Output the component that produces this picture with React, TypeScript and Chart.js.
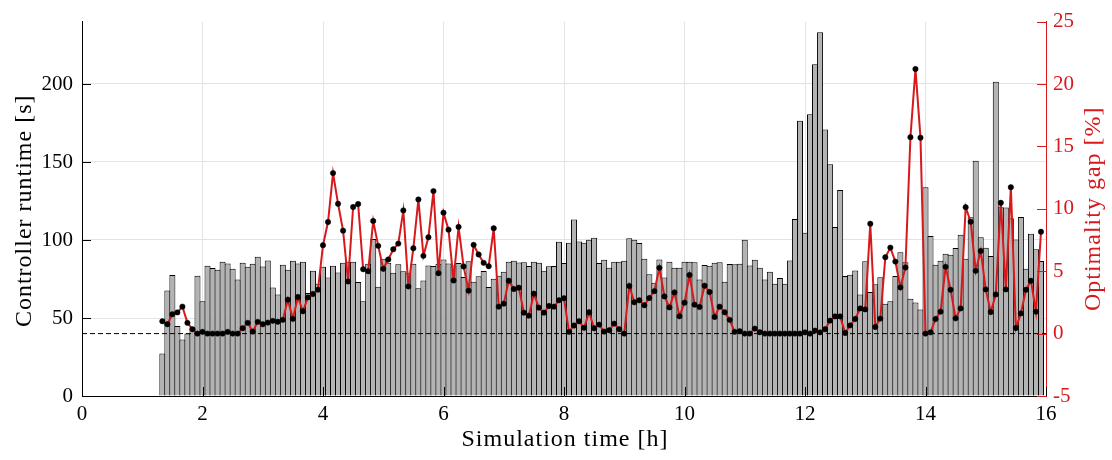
import React, { useEffect, useRef } from 'react';
import { Chart, registerables } from 'chart.js';

Chart.register(...registerables);

// Time stamps: one sample every 5 minutes starting at 1 h 20 min
const startHour = 4 / 3;
const stepHour = 1 / 12;

// Controller runtime per step [s] (left axis, bars)
const runtime = [
  27.3, 67.7, 77.5, 44.9, 36.2, 40.1, 43.9, 77.1, 60.7, 83.5,
  82, 81, 86, 85, 81.6, 74.6, 85.4, 82.9, 84.8, 89.2,
  83, 86.9, 69.6, 65, 84.1, 81, 86.7, 85, 86, 66,
  80.3, 72, 82.9, 76, 83.5, 79.2, 85.4, 86, 86, 73,
  60.7, 84.8, 100.7, 70, 88, 85.4, 79, 84.4, 79.9, 79,
  84.8, 69, 74.1, 83.7, 83.3, 84.8, 87.5, 85, 83.7, 85.2,
  76.3, 86.3, 73.3, 76.7, 80.1, 69.9, 75.2, 77.1, 79.7, 86,
  86.7, 85.6, 85.8, 83.4, 86, 85.4, 80.3, 83.1, 83.3, 98.8,
  85.2, 98.2, 113.1, 99, 98.2, 100.1, 101.4, 85.2, 87.3, 82.2,
  86, 86, 86.7, 101.2, 100.1, 98, 88, 78, 72.6, 87.5,
  76, 86, 82.2, 82.2, 86, 86, 85.8, 74.6, 83.9, 83.5,
  85.4, 85.8, 73.3, 84.6, 84.4, 84.8, 100.1, 83.7, 87.3, 82.2,
  74.6, 79.7, 72, 75.6, 72, 86.9, 113.5, 176.4, 104.6, 180.6,
  212.6, 233.2, 170.8, 148.6, 108.4, 132, 76.9, 77.7, 80.5, 65,
  86.3, 66.7, 71.6, 76.2, 59.2, 60.7, 76.9, 92.2, 85.8, 62.4,
  59.9, 55.4, 133.8, 102.5, 84.1, 86.7, 91.2, 90.5, 94.8, 103.3,
  88, 114.6, 150.8, 101.8, 95, 89.7, 201.5, 121, 120.8, 114,
  100.3, 114.8, 81.6, 104, 94, 86.5,
];

// Optimality gap per step [%] (right axis, line)
const gap = [
  0.99, 0.75, 1.55, 1.7, 2.16, 0.86, 0.35, 0, 0.14, 0,
  0, 0, 0, 0.14, 0, 0, 0.43, 0.86, 0.16, 0.94,
  0.75, 0.88, 1.02, 0.95, 1.1, 2.72, 1.18, 2.93, 1.79, 2.9,
  3.17, 3.52, 7.08, 8.94, 12.86, 10.4, 8.25, 4.18, 10.14, 10.38,
  5.16, 5.0, 9.02, 7.03, 5.19, 5.94, 6.76, 7.21, 9.87, 3.78,
  6.84, 10.75, 6.23, 7.72, 11.42, 4.84, 9.69, 8.33, 4.26, 8.55,
  5.38, 3.44, 7.11, 6.34, 5.67, 5.4, 8.44, 2.16, 2.4, 4.24,
  3.57, 3.68, 1.68, 1.44, 3.2, 2.08, 1.68, 2.21, 2.16, 2.67,
  2.83, 0.14, 0.65, 0.99, 0.46, 1.71, 0.43, 0.72, 0.16, 0.27,
  0.8, 0.35, 0, 3.81, 2.51, 2.67, 2.27, 2.85, 3.4, 5.27,
  2.98, 2.1, 3.3, 1.39, 2.48, 4.69, 2.32, 2.13, 3.84, 3.33,
  1.33, 2.16, 1.71, 1.1, 0.14, 0.19, 0, 0, 0.4, 0.11,
  0, 0, 0, 0, 0, 0, 0, 0, 0.1, 0,
  0.24, 0.1, 0.35, 1.04, 1.38, 1.38, 0.05, 0.66, 1.17, 2.02,
  1.94, 8.8, 0.53, 1.2, 6.12, 6.89, 5.77, 3.7, 5.3, 15.74,
  21.2, 15.7, 0, 0.1, 1.17, 1.76, 5.35, 3.51, 1.22, 2.02,
  10.13, 8.96, 5.03, 6.62, 3.54, 1.73, 3.14, 10.48, 3.54, 11.73,
  0.45, 1.62, 3.51, 4.23, 1.76, 8.16,
];

const xTicks = [0, 2, 4, 6, 8, 10, 12, 14, 16];
const leftTicks = [0, 50, 100, 150, 200];
const rightTicks = [-5, 0, 5, 10, 15, 20, 25];
const xRange = [0, 16];
const leftRange = [0, 240];
const rightRange = [-5, 25];
const referenceRuntime = 40;

const xTitle = 'Simulation time [h]';
const leftTitle = 'Controller runtime [s]';
const rightTitle = 'Optimality gap [%]';

const RED = '#d7191c';
const FONT = '"Liberation Serif", "Times New Roman", serif';

export default function App() {
  const canvasRef = useRef<HTMLCanvasElement | null>(null);

  useEffect(() => {
    if (!canvasRef.current) return;
    const times = runtime.map((_, i) => startHour + i * stepHour);

    const overlayPlugin = {
      id: 'overlay',
      afterDatasetsDraw(chart: any) {
        const { ctx, chartArea, scales } = chart;
        const { left, right, bottom } = chartArea;
        const tl = 9;
        ctx.save();
        ctx.lineWidth = 1;
        ctx.strokeStyle = '#000';
        xTicks.forEach((v) => {
          const px = Math.round(scales.x.getPixelForValue(v)) + 0.5;
          ctx.beginPath();
          ctx.moveTo(px, bottom);
          ctx.lineTo(px, bottom - tl);
          ctx.stroke();
        });
        leftTicks.forEach((v) => {
          const py = Math.round(scales.y.getPixelForValue(v)) + 0.5;
          ctx.beginPath();
          ctx.moveTo(left, py);
          ctx.lineTo(left + tl, py);
          ctx.stroke();
        });
        ctx.strokeStyle = RED;
        rightTicks.forEach((v) => {
          const py = Math.round(scales.y2.getPixelForValue(v)) + 0.5;
          ctx.beginPath();
          ctx.moveTo(right, py);
          ctx.lineTo(right - tl, py);
          ctx.stroke();
        });
        ctx.restore();
      },
      afterDraw(chart: any) {
        const { ctx, chartArea } = chart;
        const midY = (chartArea.top + chartArea.bottom) / 2;
        ctx.save();
        ctx.font = `24px ${FONT}`;
        try { (ctx as any).letterSpacing = '1px'; } catch (e) { /* ignore */ }
        ctx.textAlign = 'center';
        ctx.textBaseline = 'alphabetic';
        ctx.fillStyle = '#000';
        ctx.fillText(xTitle, (chartArea.left + chartArea.right) / 2 + 1, 446);
        ctx.save();
        ctx.translate(31, midY + 2);
        ctx.rotate(-Math.PI / 2);
        ctx.fillText(leftTitle, 0, 0);
        ctx.restore();
        ctx.save();
        ctx.fillStyle = RED;
        ctx.translate(1100, midY);
        ctx.rotate(-Math.PI / 2);
        ctx.fillText(rightTitle, 0, 0);
        ctx.restore();
        ctx.restore();
      },
    };

    const chart = new Chart(canvasRef.current, {
      type: 'bar',
      data: {
        datasets: [
          {
            type: 'line',
            label: 'Optimality gap',
            data: gap.map((g, i) => ({ x: times[i], y: g })),
            yAxisID: 'y2',
            xAxisID: 'x',
            borderColor: RED,
            borderWidth: 2,
            pointRadius: 2.7,
            pointBackgroundColor: '#000',
            pointBorderColor: '#000',
            pointBorderWidth: 0.5,
            tension: 0,
            order: 0,
          } as any,
          {
            type: 'line',
            label: 'Reference',
            data: xRange.map((x) => ({ x, y: referenceRuntime })),
            yAxisID: 'y',
            xAxisID: 'x',
            borderColor: '#000',
            borderWidth: 1,
            borderDash: [5, 3],
            pointRadius: 0,
            order: 1,
          } as any,
          {
            type: 'bar',
            label: 'Controller runtime',
            data: runtime.map((r, i) => ({ x: times[i], y: r })),
            yAxisID: 'y',
            xAxisID: 'x',
            backgroundColor: '#b3b3b3',
            borderColor: '#000',
            borderWidth: 1,
            barPercentage: 1,
            categoryPercentage: 1.2,
            inflateAmount: 0,
            order: 2,
          } as any,
        ],
      },
      options: {
        animation: false,
        responsive: false,
        devicePixelRatio: 1,
        layout: { padding: { top: 20, left: 0, right: 0, bottom: 0 } },
        plugins: {
          legend: { display: false },
          tooltip: { enabled: false },
        },
        scales: {
          x: {
            type: 'linear',
            position: 'bottom',
            min: xRange[0],
            max: xRange[1],
            offset: false,
            grid: { offset: false, color: '#e3e3e3', drawTicks: false },
            border: { display: true, color: '#000', width: 1 },
            ticks: {
              padding: 6,
              color: '#000',
              font: { family: FONT, size: 21 },
              maxRotation: 0,
              autoSkip: false,
            },
            afterBuildTicks: (scale: any) => {
              scale.ticks = xTicks.map((v) => ({ value: v }));
            },
            afterFit: (scale: any) => {
              scale.height = 64;
            },
          },
          y: {
            type: 'linear',
            position: 'left',
            min: leftRange[0],
            max: leftRange[1],
            grid: { color: '#e3e3e3', drawTicks: false },
            border: { display: true, color: '#000', width: 1 },
            ticks: {
              padding: 9,
              color: '#000',
              font: { family: FONT, size: 21 },
              autoSkip: false,
            },
            afterBuildTicks: (scale: any) => {
              scale.ticks = leftTicks.map((v) => ({ value: v }));
            },
            afterFit: (scale: any) => {
              scale.width = 82;
            },
          },
          y2: {
            type: 'linear',
            position: 'right',
            min: rightRange[0],
            max: rightRange[1],
            grid: { display: false, drawTicks: false },
            border: { display: true, color: RED, width: 1 },
            ticks: {
              padding: 7,
              color: RED,
              font: { family: FONT, size: 21 },
              autoSkip: false,
            },
            afterBuildTicks: (scale: any) => {
              scale.ticks = rightTicks.map((v) => ({ value: v }));
            },
            afterFit: (scale: any) => {
              scale.width = 66;
            },
          },
        },
      } as any,
      plugins: [overlayPlugin],
    });

    return () => chart.destroy();
  }, []);

  return (
    <div style={{ position: 'absolute', left: 0, top: 0, width: 1112, height: 460, background: '#fff' }}>
      <canvas ref={canvasRef} width={1112} height={460} style={{ width: 1112, height: 460, display: 'block' }} />
    </div>
  );
}
